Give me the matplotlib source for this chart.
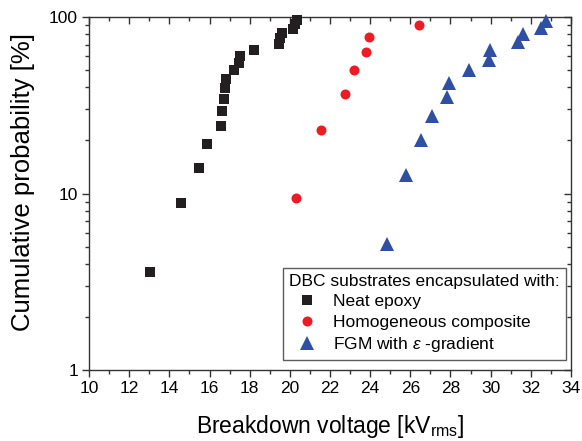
import matplotlib
matplotlib.use("Agg")
import matplotlib.pyplot as plt
from matplotlib.ticker import FixedLocator, FixedFormatter, MultipleLocator, NullFormatter, LogLocator

plt.rcParams['font.family'] = ['Liberation Sans', 'DejaVu Sans']
plt.rcParams['mathtext.fontset'] = 'custom'
plt.rcParams['mathtext.rm'] = 'Liberation Sans'
plt.rcParams['mathtext.it'] = 'Liberation Sans:italic'

# Data
neat_v = [13.05, 14.6, 15.48, 15.88, 16.56, 16.64, 16.71, 16.79, 16.82, 17.22, 17.45, 17.53,
          18.22, 19.45, 19.5, 19.6, 20.15, 20.25, 20.35]
neat_p = [3.6, 8.8, 13.9, 19.1, 24.2, 29.4, 34.5, 39.7, 44.8, 50.0, 55.2, 60.3,
          65.5, 70.6, 75.8, 80.9, 86.1, 91.2, 96.4]
homo_v = [20.31, 21.55, 22.75, 23.21, 23.81, 23.93, 26.42]
homo_p = [9.5, 23.0, 36.5, 50.0, 63.5, 77.0, 90.5]
fgm_v = [24.86, 25.77, 26.53, 27.07, 27.83, 27.91, 28.92, 29.92, 29.97, 31.36, 31.60, 32.51, 32.74]
fgm_p = [5.2, 12.7, 20.1, 27.6, 35.1, 42.5, 50.0, 57.5, 64.9, 72.4, 79.9, 87.3, 94.8]

labels = ['Neat epoxy', 'Homogeneous composite', r'FGM with $\mathit{\varepsilon}$ -gradient']
legend_title = 'DBC substrates encapsulated with:'
xticks = [10, 12, 14, 16, 18, 20, 22, 24, 26, 28, 30, 32, 34]
yticks = [1, 10, 100]

fig = plt.figure(figsize=(5.82, 4.41), dpi=100)
ax = fig.add_axes([0.153, 0.161, 0.828, 0.800])

ax.plot(neat_v, neat_p, 's', color='#231f20', ms=6.5, mew=0, label=labels[0], clip_on=False, zorder=3)
ax.plot(homo_v, homo_p, 'o', color='#ed1c24', ms=7.2, mew=0, label=labels[1], clip_on=False, zorder=3)
ax.plot(fgm_v, fgm_p, '^', color='#2e4fa3', ms=10, mew=0, label=labels[2], clip_on=False, zorder=3)

ax.set_yscale('log')
ax.set_xlim(10, 34)
ax.set_ylim(1, 100)
ax.xaxis.set_major_locator(FixedLocator(xticks))
ax.xaxis.set_minor_locator(MultipleLocator(1))
ax.yaxis.set_major_locator(FixedLocator(yticks))
ax.yaxis.set_major_formatter(FixedFormatter([str(t) for t in yticks]))
ax.yaxis.set_minor_locator(LogLocator(base=10, subs=range(2, 10)))
ax.yaxis.set_minor_formatter(NullFormatter())

for s in ax.spines.values():
    s.set_linewidth(1.0)
    s.set_color('#333333')

ax.tick_params(axis='both', which='major', direction='out', length=5, width=1, labelsize=12.5, color='#333333', pad=3)
ax.tick_params(axis='both', which='minor', direction='out', length=3, width=1, color='#333333')

# mirrored inward ticks
secx = ax.secondary_xaxis('top')
secx.xaxis.set_major_locator(FixedLocator(xticks))
secx.xaxis.set_minor_locator(MultipleLocator(1))
secx.tick_params(which='major', direction='in', length=5, width=1, labeltop=False, color='#333333')
secx.tick_params(which='minor', direction='in', length=3, width=1, color='#333333')
secx.spines['top'].set_visible(False)

secy = ax.secondary_yaxis('right')
secy.set_yscale('log')
secy.yaxis.set_major_locator(FixedLocator(yticks))
secy.yaxis.set_minor_locator(LogLocator(base=10, subs=range(2, 10)))
secy.yaxis.set_minor_formatter(NullFormatter())
secy.tick_params(which='major', direction='in', length=5, width=1, labelright=False, color='#333333')
secy.tick_params(which='minor', direction='in', length=3, width=1, color='#333333')
secy.spines['right'].set_visible(False)

ax.set_xlabel(r'Breakdown voltage [kV$_{\mathrm{rms}}$]', fontsize=16.5, labelpad=12)
ax.set_ylabel('Cumulative probability [%]', fontsize=18.5, labelpad=10, y=0.534)

leg = ax.legend(title=legend_title, loc='lower right', bbox_to_anchor=(0.99, 0.028),
                borderaxespad=0, alignment='left',
                fontsize=12.5, title_fontsize=12.5, frameon=True, fancybox=False,
                edgecolor='#333333', handletextpad=0.5, borderpad=0.35, labelspacing=0.3,
                handlelength=2.0)
leg.get_frame().set_linewidth(1.0)

fig.savefig('out.png', dpi=100)
